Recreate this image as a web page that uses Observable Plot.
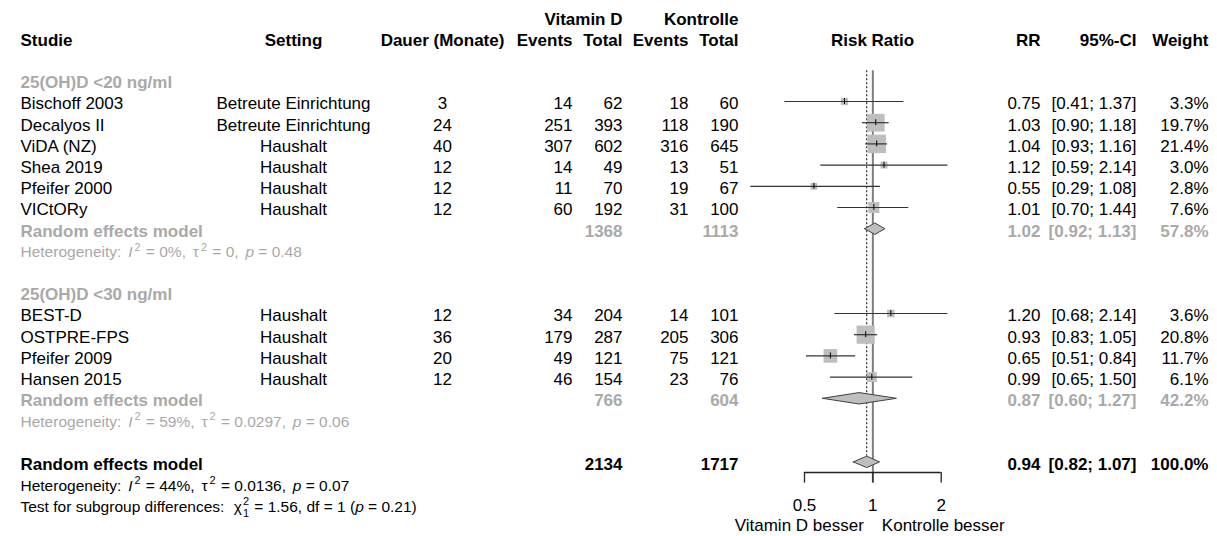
<!DOCTYPE html>
<html><head><meta charset="utf-8">
<script src="https://cdn.jsdelivr.net/npm/d3@7"></script>
<script src="https://cdn.jsdelivr.net/npm/@observablehq/plot@0.6"></script>
<style>html,body{margin:0;padding:0;background:#fff;} #chart{width:1217px;height:536px;}</style>
</head><body><div id="chart"></div>
<script>
// ---------------- data ----------------
const studies   = ["Bischoff 2003","Decalyos II","ViDA (NZ)","Shea 2019","Pfeifer 2000","VICtORy","BEST-D","OSTPRE-FPS","Pfeifer 2009","Hansen 2015"];
const settings  = ["Betreute Einrichtung","Betreute Einrichtung","Haushalt","Haushalt","Haushalt","Haushalt","Haushalt","Haushalt","Haushalt","Haushalt"];
const duration  = [3, 24, 40, 12, 12, 12, 12, 36, 20, 12];
const eventsD   = [14, 251, 307, 14, 11, 60, 34, 179, 49, 46];
const totalD    = [62, 393, 602, 49, 70, 192, 204, 287, 121, 154];
const eventsC   = [18, 118, 316, 13, 19, 31, 14, 205, 75, 23];
const totalC    = [60, 190, 645, 51, 67, 100, 101, 306, 121, 76];
const rr        = [0.75, 1.03, 1.04, 1.12, 0.55, 1.01, 1.20, 0.93, 0.65, 0.99];
const lower     = [0.41, 0.90, 0.93, 0.59, 0.29, 0.70, 0.68, 0.83, 0.51, 0.65];
const upper     = [1.37, 1.18, 1.16, 2.14, 1.08, 1.44, 2.14, 1.05, 0.84, 1.50];
const weight    = [3.3, 19.7, 21.4, 3.0, 2.8, 7.6, 3.6, 20.8, 11.7, 6.1];
const subgroup  = [0, 0, 0, 0, 0, 0, 1, 1, 1, 1];

const subgroupLabels = ["25(OH)D <20 ng/ml", "25(OH)D <30 ng/ml"];
const subTotalD = [1368, 766];
const subTotalC = [1113, 604];
const subRR     = [1.02, 0.87];
const subLower  = [0.92, 0.60];
const subUpper  = [1.13, 1.27];
const subWeight = [57.8, 42.2];
// markup: *italic*, ^sup, ^sup_sub, ~ small math gap
const subHet    = ["Heterogeneity: ~*I*^2 = 0%, ~τ^2 = 0, ~*p* = 0.48",
                   "Heterogeneity: ~*I*^2 = 59%, ~τ^2 = 0.0297, ~*p* = 0.06"];

const overallTotalD = 2134, overallTotalC = 1717;
const overallRR = 0.94, overallLower = 0.82, overallUpper = 1.07, overallWeight = 100.0;
const overallHet = "Heterogeneity: ~*I*^2 = 44%, ~τ^2 = 0.0136, ~*p* = 0.07";
const subgroupTest = "Test for subgroup differences: ~~χ^2_1 = 1.56, df = 1 (*p* = 0.21)";

const modelLabel = "Random effects model";
const header1 = {totD: "Vitamin D", totC: "Kontrolle"};
const header2 = {study: "Studie", setting: "Setting", dur: "Dauer (Monate)", evD: "Events", totD: "Total",
                 evC: "Events", totC: "Total", rrH: "Risk Ratio", rr: "RR", ci: "95%-CI", w: "Weight"};
const axisTicks = [0.5, 1, 2];
const directionLabels = ["Vitamin D besser", "Kontrolle besser"];

// ---------------- layout ----------------
const GRAY = "#a9a9a9";
const COLS = {
  study: {x: 20, anchor: "start"}, setting: {x: 293, anchor: "middle"}, dur: {x: 442, anchor: "middle"},
  evD: {x: 572, anchor: "end"}, totD: {x: 622, anchor: "end"}, evC: {x: 688, anchor: "end"},
  totC: {x: 738, anchor: "end"}, rrH: {x: 872, anchor: "middle"}, rr: {x: 1040, anchor: "end"},
  ci: {x: 1136, anchor: "end"}, w: {x: 1208, anchor: "end"}
};
const f2 = d3.format(".2f"), f1 = d3.format(".1f");
const ciText = (l, u) => `[${f2(l)}; ${f2(u)}]`;

const texts = [];
const T = (row, col, text, o = {}) => texts.push({row, col, text: String(text), bold: !!o.bold, gray: !!o.gray, small: !!o.small});
Object.entries(header1).forEach(([c, t]) => T(-4, c, t, {bold: true}));
Object.entries(header2).forEach(([c, t]) => T(-3, c, t, {bold: true}));

const studyData = [], diamonds = [];
const H = 0.27; // diamond half-height in rows
let r = -1;
subgroupLabels.forEach((lab, g) => {
  T(r, "study", lab, {bold: true, gray: true}); r++;
  studies.forEach((s, i) => {
    if (subgroup[i] !== g) return;
    studyData.push({row: r, rr: rr[i], lo: lower[i], hi: upper[i], w: weight[i]});
    T(r, "study", s); T(r, "setting", settings[i]); T(r, "dur", duration[i]);
    T(r, "evD", eventsD[i]); T(r, "totD", totalD[i]); T(r, "evC", eventsC[i]); T(r, "totC", totalC[i]);
    T(r, "rr", f2(rr[i])); T(r, "ci", ciText(lower[i], upper[i])); T(r, "w", f1(weight[i]) + "%");
    r++;
  });
  diamonds.push({id: "g" + g, row: r, est: subRR[g], lo: subLower[g], hi: subUpper[g]});
  const o = {bold: true, gray: true};
  T(r, "study", modelLabel, o); T(r, "totD", subTotalD[g], o); T(r, "totC", subTotalC[g], o);
  T(r, "rr", f2(subRR[g]), o); T(r, "ci", ciText(subLower[g], subUpper[g]), o); T(r, "w", f1(subWeight[g]) + "%", o);
  r++;
  T(r, "study", subHet[g], {small: true, gray: true}); r++;
  r++; // blank
});
const overallRow = r;
diamonds.push({id: "all", row: r, est: overallRR, lo: overallLower, hi: overallUpper});
{
  const o = {bold: true};
  T(r, "study", modelLabel, o); T(r, "totD", overallTotalD, o); T(r, "totC", overallTotalC, o);
  T(r, "rr", f2(overallRR), o); T(r, "ci", ciText(overallLower, overallUpper), o); T(r, "w", f1(overallWeight) + "%", o);
}
T(r + 1, "study", overallHet, {small: true});
T(r + 2, "study", subgroupTest, {small: true});

const diamondPts = diamonds.flatMap(d => [
  {id: d.id, x: d.lo, y: d.row}, {id: d.id, x: d.est, y: d.row - H},
  {id: d.id, x: d.hi, y: d.row}, {id: d.id, x: d.est, y: d.row + H}, {id: d.id, x: d.lo, y: d.row}
]);

const topRow = -1.45;
const axisRow = overallRow + 0.5;
const refLine = [{x: 1, y1: topRow, y2: axisRow + 0.5}];
const estLine = [{x: overallRR, y1: topRow, y2: overallRow - H}];
const bracket = [{y: axisRow, x1: axisTicks[0], x2: axisTicks[axisTicks.length - 1]}];
const tickRules = axisTicks.map(t => ({x: t, y1: axisRow, y2: axisRow + 0.5}));
const tickLabels = axisTicks.map(t => ({x: t, row: overallRow + 2, label: String(t)}));
const dirLabels = [{x: 1, row: overallRow + 3, label: directionLabels[0]}];
const dirLabels2 = [{x: 1, row: overallRow + 3, label: directionLabels[1]}];

const FONT = "Liberation Sans, Arial, Helvetica, sans-serif";
const textMarks = d3.groups(texts, d => `${d.col}|${d.bold}|${d.gray}|${d.small}`).map(([k, arr]) => {
  const d0 = arr[0], c = COLS[d0.col];
  return Plot.text(arr, {y: "row", text: "text", frameAnchor: "left", dx: c.x, dy: 2.5,
    textAnchor: c.anchor, fontSize: d0.small ? 15.5 : 17, fontWeight: d0.bold ? "bold" : "normal",
    fill: d0.gray ? GRAY : "black"});
});

const chart = Plot.plot({
  width: 1217, height: 536, margin: 0,
  style: {fontFamily: FONT, background: "white", overflow: "visible"},
  x: {type: "log", domain: [0.5, 2], range: [804, 940.7], axis: null},
  y: {type: "linear", domain: [0, 1], range: [101, 122.2], axis: null},
  r: {type: "sqrt", domain: [0, 100], range: [0, 22.5]},
  marks: [
    Plot.ruleX(refLine, {x: "x", y1: "y1", y2: "y2", stroke: "#7f7f7f", strokeWidth: 2}),
    Plot.ruleX(estLine, {x: "x", y1: "y1", y2: "y2", stroke: "#000", strokeWidth: 1, strokeDasharray: "2,2"}),
    Plot.dot(studyData, {x: "rr", y: "row", r: "w", symbol: "square", fill: "#bebebe", stroke: "none"}),
    Plot.ruleY(studyData, {y: "row", x1: "lo", x2: "hi", stroke: "#333", strokeWidth: 1.2}),
    Plot.ruleX(studyData, {x: "rr", y1: d => d.row - 0.14, y2: d => d.row + 0.14, stroke: "#000", strokeWidth: 1}),
    Plot.line(diamondPts, {x: "x", y: "y", z: "id", fill: "#bebebe", stroke: "#404040", strokeWidth: 1}),
    Plot.ruleY(bracket, {y: "y", x1: "x1", x2: "x2", stroke: "#222", strokeWidth: 1.3}),
    Plot.ruleX(tickRules, {x: "x", y1: "y1", y2: "y2", stroke: "#222", strokeWidth: 1.3}),
    Plot.text(tickLabels, {x: "x", y: "row", text: "label", fontSize: 17, dy: 1, fill: "black"}),
    Plot.text(dirLabels, {x: "x", y: "row", text: "label", fontSize: 17, dx: -9, textAnchor: "end", fill: "black"}),
    Plot.text(dirLabels2, {x: "x", y: "row", text: "label", fontSize: 17, dx: 9, textAnchor: "start", fill: "black"}),
    ...textMarks
  ]
});

// rich text: *italic*, ^sup, ^sup_sub (stacked), ~ gap
function richText(svg) {
  const ns = "http://www.w3.org/2000/svg";
  svg.querySelectorAll("text").forEach(t => {
    const s = t.textContent;
    if (!/[*^~]/.test(s)) return;
    t.textContent = "";
    let cur = 0, gap = 0;
    const add = (txt, off, attrs = {}) => {
      const ts = document.createElementNS(ns, "tspan");
      ts.textContent = txt;
      if (off !== cur) ts.setAttribute("dy", off - cur);
      cur = off;
      const dx = (attrs.dx || 0) + gap; gap = 0;
      delete attrs.dx;
      if (dx) ts.setAttribute("dx", dx);
      for (const k in attrs) ts.setAttribute(k, attrs[k]);
      t.appendChild(ts);
    };
    const re = /\*([^*]+)\*|\^(\w)_(\w)|\^(\w)|(~)|([^*^~]+)/g;
    let m;
    while ((m = re.exec(s))) {
      if (m[1]) add(m[1], 0, {"font-style": "italic"});
      else if (m[2]) {
        add(m[2], -6.5, {"font-size": 11, dx: 1});
        add(m[3], 5, {"font-size": 11, dx: -6.1});
      }
      else if (m[4]) add(m[4], -6.5, {"font-size": 11, dx: 2});
      else if (m[5]) gap += 2.5;
      else add(m[6], 0, {dx: cur !== 0 ? 1 : 0});
    }
  });
}
richText(chart);
document.getElementById("chart").appendChild(chart);
</script></body></html>
